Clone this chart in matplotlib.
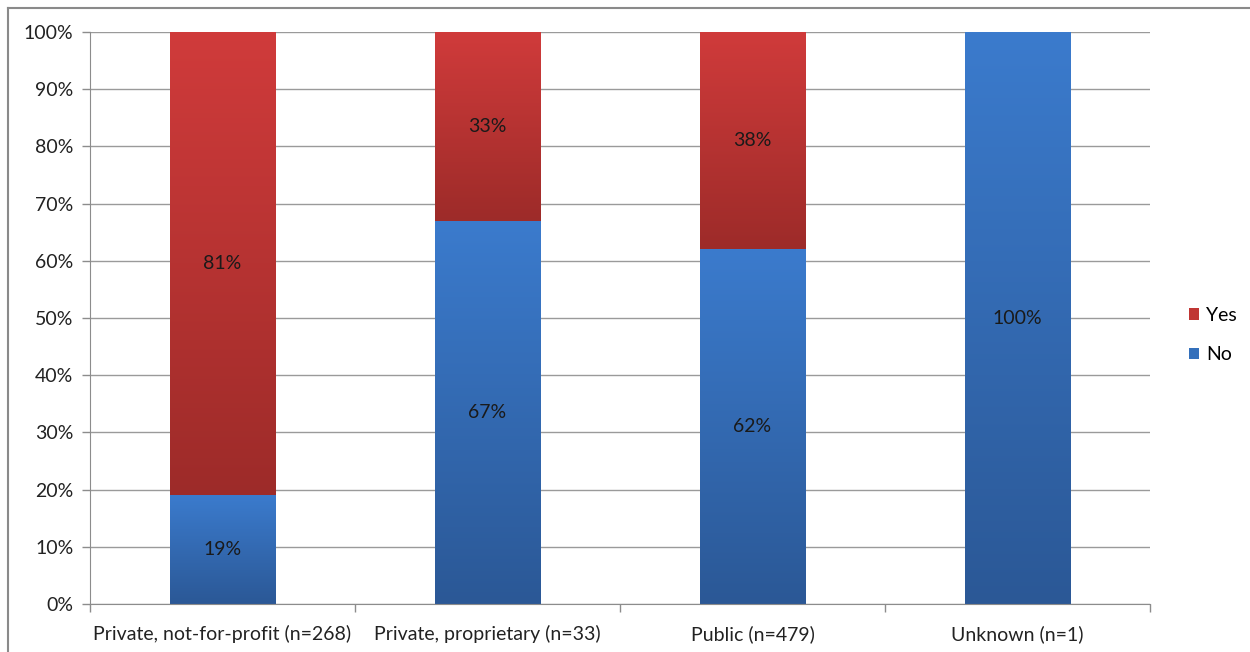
import numpy as np
import matplotlib.pyplot as plt
from matplotlib.colors import LinearSegmentedColormap

# data
categories = ["Private, not-for-profit (n=268)", "Private, proprietary (n=33)",
              "Public (n=479)", "Unknown (n=1)"]
no_pct = [19, 67, 62, 100]
yes_pct = [81, 33, 38, 0]
yticks = np.arange(0, 101, 10)

plt.rcParams['font.family'] = ['Lato', 'DejaVu Sans']

fig = plt.figure(figsize=(12.5, 6.52), dpi=100)
ax = fig.add_axes([0.072, 0.0736, 0.848, 0.8773])

x = np.arange(len(categories))
w = 0.4
bars_no = ax.bar(x, no_pct, w, color="#3470bb", label="No", zorder=2)
bars_yes = ax.bar(x, yes_pct, w, bottom=no_pct, color="#c03634", label="Yes", zorder=2)

# gradient fill in each segment, lighter on top
blue_cm = LinearSegmentedColormap.from_list("b", ["#2b5896", "#3b7bcd"])
red_cm = LinearSegmentedColormap.from_list("r", ["#9d2b29", "#d03b3b"])
grad = np.linspace(0, 1, 256).reshape(-1, 1)
for bars, cm in [(bars_no, blue_cm), (bars_yes, red_cm)]:
    for b in bars:
        if b.get_height() <= 0:
            continue
        x0, y0 = b.get_x(), b.get_y()
        im = ax.imshow(grad, cmap=cm, aspect="auto", origin="lower",
                       extent=[x0, x0 + b.get_width(), y0, y0 + b.get_height()],
                       zorder=2.5)
        im.set_clip_path(b)

# value labels
for i in range(len(categories)):
    if no_pct[i] > 0:
        ax.text(x[i], no_pct[i] / 2, f"{no_pct[i]}%", ha="center", va="center",
                fontsize=14, color="#1a1a1a", zorder=4)
    if yes_pct[i] > 0:
        ax.text(x[i], no_pct[i] + yes_pct[i] / 2, f"{yes_pct[i]}%", ha="center",
                va="center", fontsize=14, color="#1a1a1a", zorder=4)

ax.set_xlim(-0.5, len(categories) - 0.5)
ax.set_ylim(0, 100)
ax.set_yticks(yticks)
ax.set_yticklabels([f"{t}%" for t in yticks], fontsize=14, color="#222222")
ax.set_xticks(x)
ax.set_xticklabels(categories, fontsize=14, color="#222222")
ax.tick_params(axis="x", length=0, pad=15)
ax.set_xticks(np.arange(-0.5, len(categories), 1), minor=True)
ax.tick_params(axis="x", which="minor", length=6, color="#8c8c8c", width=1)
ax.tick_params(axis="y", length=6, color="#8c8c8c", width=1, pad=6)
ax.grid(axis="y", color="#9a9a9a", linewidth=1, zorder=0)
ax.set_axisbelow(True)
for s in ["top", "right"]:
    ax.spines[s].set_visible(False)
for s in ["left", "bottom"]:
    ax.spines[s].set_color("#8c8c8c")

handles, labels = ax.get_legend_handles_labels()
ax.legend(handles[::-1], labels[::-1], loc="center left", bbox_to_anchor=(1.02, 0.47),
          frameon=False, fontsize=14, handlelength=0.55, handleheight=0.55,
          handletextpad=0.35, labelspacing=1.15)

# outer frame of the chart area
fig.add_artist(plt.Line2D([8 / 1250, 8 / 1250], [0, 1 - 8 / 652], transform=fig.transFigure,
                          color="#8a8a8a", linewidth=1.5))
fig.add_artist(plt.Line2D([8 / 1250, 1], [1 - 8 / 652, 1 - 8 / 652], transform=fig.transFigure,
                          color="#8a8a8a", linewidth=1.5))

fig.savefig("out.png", dpi=100)
